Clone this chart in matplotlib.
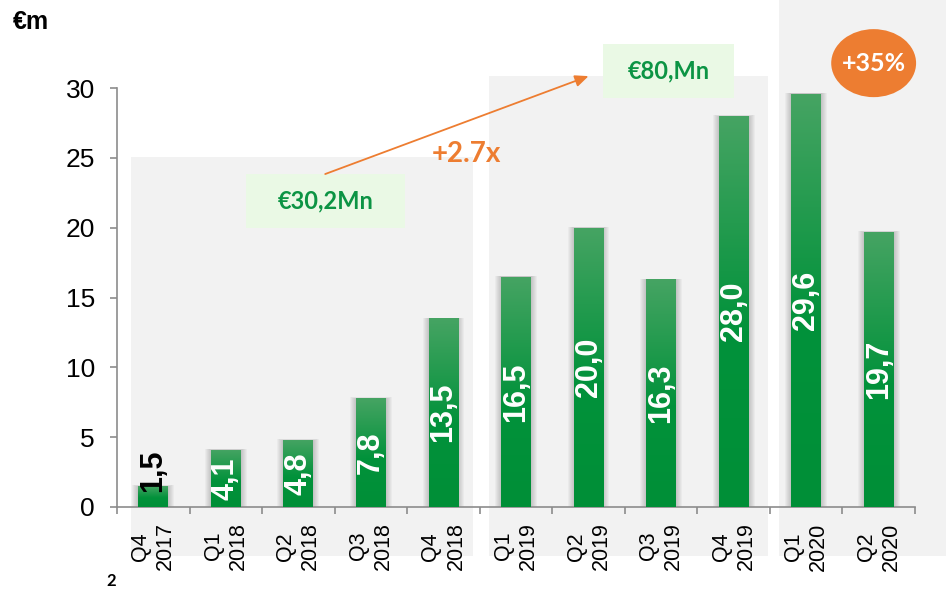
import numpy as np
import matplotlib
matplotlib.use("Agg")
import matplotlib.pyplot as plt
from matplotlib import font_manager
from matplotlib.patches import Rectangle, Ellipse
from matplotlib.colors import LinearSegmentedColormap

quarters = ["Q4", "Q1", "Q2", "Q3", "Q4", "Q1", "Q2", "Q3", "Q4", "Q1", "Q2"]
years = ["2017", "2018", "2018", "2018", "2018", "2019", "2019", "2019", "2019", "2020", "2020"]
revenue = [1.5, 4.1, 4.8, 7.8, 13.5, 16.5, 20.0, 16.3, 28.0, 29.6, 19.7]
value_labels = ["1,5", "4,1", "4,8", "7,8", "13,5", "16,5", "20,0", "16,3", "28,0", "29,6", "19,7"]
yticks = [0, 5, 10, 15, 20, 25, 30]

total_2018 = "€30,2Mn"
total_2019 = "€80,Mn"
growth_label = "+2.7x"
growth_2020 = "+35%"

GREEN_DARK = "#00913A"
GREEN_LIGHT = "#46A463"
ORANGE = "#ED7D31"
PANEL = "#F2F2F2"
AXIS = "#8C8C8C"
TXT_GREEN = "#0C9444"
BOX_GREEN = "#EAF9E5"

plt.rcParams["font.family"] = ["Liberation Sans", "DejaVu Sans"]

installed = {f.name for f in font_manager.fontManager.ttflist}
if "Liberation Sans Narrow" in installed:
    tick_font, tick_size = ["Liberation Sans Narrow", "DejaVu Sans"], 17.5
else:
    tick_font, tick_size = ["Liberation Sans", "DejaVu Sans"], 15.5

fig = plt.figure(figsize=(9.46, 5.9), dpi=100)
ax = fig.add_axes([117 / 946, 83 / 590, 798 / 946, 419 / 590])
ax.set_facecolor("none")

# grey background panels behind the year groups
panels = [(-0.307, 4.41, 25.05), (4.63, 8.48, 30.85), (8.62, 11.2, 37.0)]
for x0, x1, top in panels:
    ax.add_patch(Rectangle((x0, -3.51), x1 - x0, top + 3.51, facecolor=PANEL,
                           edgecolor="none", zorder=0, clip_on=False))

x = np.arange(len(revenue))
width = 0.41
bars = ax.bar(x, revenue, width, color=GREEN_DARK, zorder=3)

cmap = LinearSegmentedColormap.from_list(
    "bar", [(0, "#008F37"), (0.45, "#02923B"), (1, GREEN_LIGHT)])
grad = np.linspace(0, 1, 256).reshape(-1, 1)
px = 1 / 72.5
for b in bars:
    bx, bw, bh = b.get_x(), b.get_width(), b.get_height()
    # soft shadow around the bar
    for k in range(1, 7):
        ax.add_patch(Rectangle((bx - k * px, 0), bw + 2 * k * px, bh + 0.01 * k,
                               facecolor="black", alpha=0.03, edgecolor="none", zorder=2))
    im = ax.imshow(grad, extent=[bx, bx + bw, 0, bh], origin="lower", cmap=cmap,
                   aspect="auto", zorder=3.1)
    im.set_clip_path(b)

for i, (v, lab) in enumerate(zip(revenue, value_labels)):
    if v < 3:
        ax.annotate(lab, (i, v), xytext=(0, -4.5), textcoords="offset points",
                    rotation=90, ha="center", va="bottom", fontsize=22,
                    fontweight="bold", color="black", zorder=5)
    else:
        ax.text(i, v / 2, lab, rotation=90, ha="center", va="center", fontsize=22,
                fontweight="bold", color="white", zorder=5)

ax.set_xlim(-0.5, len(revenue) - 0.5)
ax.set_ylim(0, 30)
ax.set_yticks(yticks)
ax.set_xticks(x)
ax.set_xticklabels([f"{q}\n{y}" for q, y in zip(quarters, years)], rotation=90,
                   fontsize=tick_size, family=tick_font, ha="center", va="top",
                   multialignment="center", linespacing=1.25)
ax.set_xticks(np.arange(-0.5, len(revenue)), minor=True)
ax.tick_params(axis="x", which="major", length=0, pad=11)
ax.tick_params(axis="x", which="minor", length=5, width=1.2, color=AXIS)
ax.tick_params(axis="y", length=5, width=1.2, color=AXIS, labelsize=19, pad=11)

for s in ["top", "right"]:
    ax.spines[s].set_visible(False)
for s in ["left", "bottom"]:
    ax.spines[s].set_color(AXIS)
    ax.spines[s].set_linewidth(1.2)

# annotation boxes
box_font = ["Lato", "DejaVu Sans"]
for (x0, x1, y0, y1), txt in [((1.28, 3.47, 19.97, 23.84), total_2018),
                              ((6.20, 8.01, 29.28, 33.14), total_2019)]:
    ax.add_patch(Rectangle((x0, y0), x1 - x0, y1 - y0, facecolor=BOX_GREEN,
                           edgecolor="none", zorder=4, clip_on=False))
    ax.text((x0 + x1) / 2, (y0 + y1) / 2, txt, ha="center", va="center",
            fontsize=17, fontweight="bold", color=TXT_GREEN, family=box_font,
            zorder=5, clip_on=False)

ax.annotate("", xy=(6.0, 30.85), xytext=(2.37, 23.84),
            arrowprops=dict(arrowstyle="-|>,head_length=0.8,head_width=0.35",
                            color=ORANGE, lw=1.3, shrinkA=0, shrinkB=0),
            zorder=5, annotation_clip=False)
ax.text(4.31, 25.27, growth_label, ha="center", va="center", fontsize=20,
        fontweight="bold", color=ORANGE, family=box_font, zorder=5)

ax.add_patch(Ellipse((9.93, 31.78), 1.17, 4.87, facecolor=ORANGE, edgecolor="none",
                     zorder=4, clip_on=False))
ax.text(9.93, 31.78, growth_2020, ha="center", va="center", fontsize=18,
        fontweight="bold", color="white", family=box_font, zorder=5, clip_on=False)

fig.text(13 / 946, 1 - 29 / 590, "€m", fontsize=18, fontweight="bold", va="baseline")
fig.text(106 / 946, 1 - 586 / 590, "2", fontsize=12, fontweight="bold", va="baseline",
         family=box_font)

fig.savefig("out.png", dpi=100)
